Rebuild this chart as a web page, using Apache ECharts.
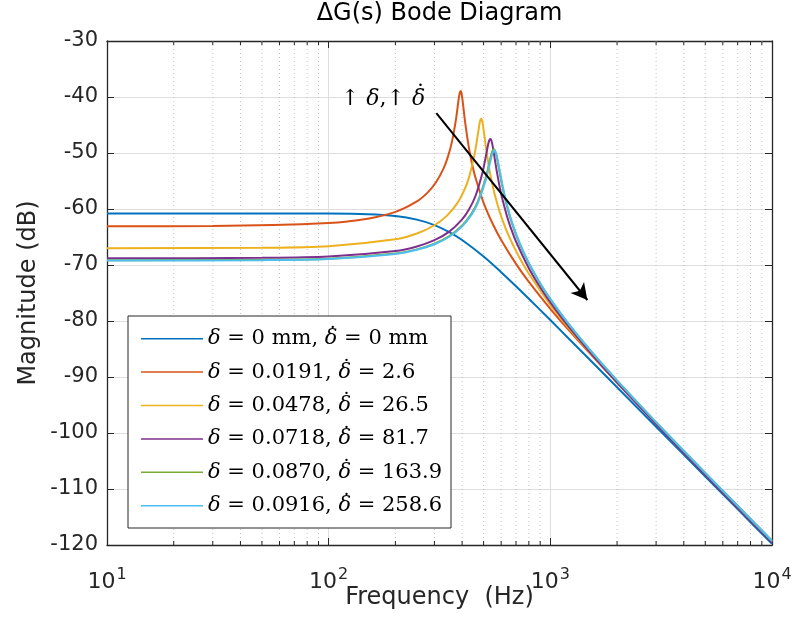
<!DOCTYPE html>
<html><head><meta charset="utf-8">
<script src="https://cdn.jsdelivr.net/npm/echarts@6/dist/echarts.min.js"></script>
<style>html,body{margin:0;padding:0;background:#fff}#c{width:792px;height:618px}</style>
</head><body><div id="c"></div>
<script>
// ---------- data ----------
const D = '\u03B4', DD = '\u03B4\u0307';
const seriesNames = [
  D + ' = 0 mm, ' + DD + ' = 0 mm',
  D + ' = 0.0191, ' + DD + ' = 2.6',
  D + ' = 0.0478, ' + DD + ' = 26.5',
  D + ' = 0.0718, ' + DD + ' = 81.7',
  D + ' = 0.0870, ' + DD + ' = 163.9',
  D + ' = 0.0916, ' + DD + ' = 258.6'
];
const colors = ['#0072BD', '#D95319', '#EDB120', '#7E2F8E', '#77AC30', '#4DBEEE'];

const freqBlue = [10,30,60,100,150,200,250,300,350,400,500,600,700,800,1000,1200,1500,2000,3000,5000,7000,10000];
const magBlue  = [-60.80,-60.80,-60.80,-60.82,-60.94,-61.26,-61.90,-62.87,-64.12,-65.54,-68.49,-71.28,-73.79,-76.02,-79.83,-82.98,-86.84,-91.84,-98.88,-107.76,-113.60,-119.80];

const freqRed = [10,30,100,150,200,250,280,305,330,345,360,375,385,390,394,398,403,413,430,445,460,500,550,600,700,800,1000,1200,1500,2000,3000,5000,10000];
const magRed  = [-63.09,-63.05,-62.52,-61.74,-60.52,-58.65,-57.03,-55.22,-52.74,-50.70,-47.97,-44.09,-40.67,-39.31,-38.95,-39.47,-40.99,-44.64,-49.27,-52.20,-54.48,-58.89,-62.68,-65.53,-69.79,-73.00,-77.82,-81.46,-85.70,-90.98,-98.21,-107.18,-119.27];

const freqYellow = [10,50,100,200,250,300,340,380,410,430,455,470,480,484,488,492,497,505,520,545,580,615,650,720,800,1000,1200,1500,2000,3000,5000,10000];
const magYellow  = [-67.00,-66.91,-66.63,-65.41,-64.37,-62.90,-61.27,-58.99,-56.54,-54.31,-50.29,-46.91,-44.63,-44.06,-43.90,-44.20,-45.11,-47.12,-50.79,-55.28,-59.48,-62.49,-64.84,-68.45,-71.57,-77.11,-81.07,-85.54,-90.97,-98.32,-107.34,-119.44];

const freqPurple = [10,50,100,200,250,300,350,400,430,460,495,515,525,532,537,542,548,558,575,600,640,660,700,800,900,1000,1200,1500,2000,3000,5000,10000];
const magPurple  = [-68.80,-68.72,-68.49,-67.51,-66.69,-65.57,-64.04,-61.86,-60.05,-57.63,-53.40,-50.02,-48.35,-47.61,-47.49,-47.77,-48.54,-50.37,-53.56,-57.31,-61.52,-63.14,-65.80,-70.57,-73.98,-76.66,-80.84,-85.45,-91.00,-98.40,-107.46,-119.58];

const freqGreen = [10,50,100,200,250,300,350,400,440,470,510,533,545,551,557,563,571,583,605,630,670,730,800,900,1000,1200,1500,2000,3000,5000,10000];
const magGreen  = [-69.15,-69.08,-68.87,-67.96,-67.21,-66.20,-64.84,-62.95,-60.85,-58.71,-54.57,-51.36,-49.86,-49.42,-49.32,-49.60,-50.46,-52.27,-55.64,-58.76,-62.47,-66.42,-69.76,-73.34,-76.12,-80.39,-85.07,-90.66,-98.10,-107.17,-119.29];

const freqCyan = [10,50,100,200,250,300,350,400,440,470,510,533,545,554,560,566,574,586,605,630,670,730,800,900,1000,1200,1500,2000,3000,5000,10000];
const magCyan  = [-69.20,-69.13,-68.92,-68.02,-67.28,-66.29,-64.95,-63.10,-61.05,-58.98,-55.01,-51.91,-50.35,-49.63,-49.54,-49.81,-50.64,-52.40,-55.28,-58.46,-62.25,-66.25,-69.64,-73.24,-76.04,-80.32,-85.02,-90.61,-98.05,-107.12,-119.25];

const xTicks   = [10, 100, 1000, 10000];
const xTickExp = ['1', '2', '3', '4'];
const minorTicks = [20,30,40,50,60,70,80,90,200,300,400,500,600,700,800,900,2000,3000,4000,5000,6000,7000,8000,9000];
const yMin = -120, yMax = -30, yStep = 10;

const arrowFrom = [306, -42.9];
const arrowTo   = [1469, -76.25];
const annotPos  = [176, -40.4];
const annotText = '\u2191 ' + D + ',\u2191 ' + DD;
const titleText = '\u0394G(s) Bode Diagram';
const xName = 'Frequency  (Hz)';
const yName = 'Magnitude (dB)';

// ---------- chart ----------
const gridL = 107, gridR = 20, gridT = 41, gridB = 73, W = 792;
const axisColor = '#262626';
const sans = 'DejaVu Sans';
const serif = 'DejaVu Serif';
const DOT = '\u02D9';

const mctx = document.createElement('canvas').getContext('2d');
function textW(t, font) { mctx.font = font; return mctx.measureText(t).width; }

// rich styles: italic delta + a zero-width raised dot centred over it
function deltaRich(size, raise) {
  const dW = textW(D, 'italic ' + size + 'px "' + serif + '"');
  const oW = textW(DOT, size + 'px "' + serif + '"');
  const shift = size * 0.08;
  const L = -(dW / 2 + oW / 2) + shift;
  const R = -oW - L;
  return {
    i: {fontFamily: serif, fontStyle: 'italic', fontSize: size, color: '#000'},
    dt: {fontFamily: serif, fontSize: size, color: '#000',
         lineHeight: size, padding: [-raise, R, 0, L]}
  };
}
const toRich = s => s.replace(/\u03B4(\u0307?)/g, (m, dot) => '{i|' + D + '}' + (dot ? '{dt|' + DOT + '}' : ''));

const curves = [
  [freqBlue, magBlue], [freqRed, magRed], [freqYellow, magYellow],
  [freqPurple, magPurple], [freqGreen, magGreen], [freqCyan, magCyan]
];

const chart = echarts.init(document.getElementById('c'), null, {renderer: 'canvas'});

const lineSeries = curves.map((c, k) => ({
  name: seriesNames[k],
  type: 'line',
  xAxisIndex: 0, yAxisIndex: 0,
  data: c[0].map((f, i) => [f, c[1][i]]),
  symbol: 'none',
  showSymbol: false,
  smooth: 0.3,
  lineStyle: {color: colors[k], width: 2},
  itemStyle: {color: colors[k]},
  z: 3,
  animation: false
}));

const minorSeries = {
  type: 'custom',
  xAxisIndex: 0, yAxisIndex: 0,
  data: minorTicks.map(v => [v, yMin]),
  encode: {x: 0, y: 1},
  silent: true,
  z: 1,
  animation: false,
  renderItem: (params, api) => {
    const v = api.value(0);
    const top = api.coord([v, yMax]);
    const bot = api.coord([v, yMin]);
    return {
      type: 'group',
      children: [
        {type: 'line', shape: {x1: top[0], y1: top[1], x2: bot[0], y2: bot[1]},
         style: {stroke: '#c4c4c4', lineWidth: 1, lineDash: [1, 3]}},
        {type: 'line', shape: {x1: bot[0], y1: bot[1], x2: bot[0], y2: bot[1] - 4},
         style: {stroke: axisColor, lineWidth: 1}},
        {type: 'line', shape: {x1: top[0], y1: top[1], x2: top[0], y2: top[1] + 4},
         style: {stroke: axisColor, lineWidth: 1}}
      ]
    };
  }
};

const annotSeries = {
  name: 'annotation',
  type: 'line',
  xAxisIndex: 0, yAxisIndex: 0,
  data: [],
  z: 5,
  animation: false,
  markLine: {
    silent: true,
    animation: false,
    symbol: ['none', 'arrow'],
    symbolSize: [13, 16],
    lineStyle: {color: '#000', width: 2, type: 'solid'},
    label: {show: false},
    data: [[{coord: arrowFrom}, {coord: arrowTo}]]
  },
  markPoint: {
    silent: true,
    animation: false,
    symbol: 'circle',
    symbolSize: 0,
    data: [{
      coord: annotPos,
      label: {
        show: true, position: 'inside',
        formatter: toRich(annotText),
        fontFamily: serif, fontSize: 22, color: '#000', lineHeight: 26,
        rich: deltaRich(22, 7)
      }
    }]
  }
};

const xAxisBase = {
  type: 'log', logBase: 10, min: xTicks[0], max: xTicks[xTicks.length - 1],
  axisLine: {show: true, onZero: false, lineStyle: {color: axisColor, width: 1.3}},
  axisTick: {show: true, inside: true, length: 7, lineStyle: {color: axisColor, width: 1}}
};
const yAxisBase = {
  type: 'value', min: yMin, max: yMax, interval: yStep,
  axisLine: {show: true, onZero: false, lineStyle: {color: axisColor, width: 1.3}},
  axisTick: {show: true, inside: true, length: 7, lineStyle: {color: axisColor, width: 1}}
};

const option = {
  backgroundColor: '#fff',
  animation: false,
  color: colors,
  grid: {left: gridL, right: gridR, top: gridT, bottom: gridB, containLabel: false, outerBoundsMode: 'none'},
  graphic: [{
    type: 'text',
    x: gridL + (W - gridL - gridR) / 2, y: 14,
    style: {text: titleText, font: '24px "DejaVu Sans"', fill: '#000',
            textAlign: 'center', textVerticalAlign: 'middle'}
  }],
  legend: {
    data: seriesNames,
    orient: 'vertical',
    left: 128, top: 316,
    icon: 'rect',
    itemWidth: 62, itemHeight: 1.5, itemGap: 7.4,
    padding: [8.7, 8, 10.3, 13],
    backgroundColor: '#fff',
    borderColor: axisColor, borderWidth: 1,
    selectedMode: false,
    formatter: name => toRich(name),
    textStyle: {
      fontFamily: serif, fontSize: 21, color: '#000', lineHeight: 24, width: 235,
      rich: deltaRich(21, 7)
    }
  },
  xAxis: [
    Object.assign({}, xAxisBase, {
      position: 'bottom',
      name: xName, nameLocation: 'middle', nameGap: 41, nameMoveOverlap: false,
      nameTextStyle: {fontFamily: sans, fontSize: 24, color: axisColor},
      axisLabel: {
        show: true, margin: 22, showMinLabel: true, showMaxLabel: true,
        formatter: v => {
          const e = Math.round(Math.log10(v));
          const idx = xTicks.findIndex(t => Math.round(Math.log10(t)) === e);
          return '{b|10}{s|' + xTickExp[idx] + '}';
        },
        rich: {
          b: {fontFamily: sans, fontSize: 22, color: axisColor},
          s: {fontFamily: sans, fontSize: 16, color: axisColor, padding: [0, 0, 14, 1]}
        }
      },
      splitLine: {show: true, lineStyle: {color: '#dedede', width: 1}}
    }),
    Object.assign({}, xAxisBase, {
      position: 'top',
      axisLabel: {show: false},
      splitLine: {show: false}
    })
  ],
  yAxis: [
    Object.assign({}, yAxisBase, {
      position: 'left',
      name: yName, nameLocation: 'middle', nameGap: 66, nameMoveOverlap: false,
      nameTextStyle: {fontFamily: sans, fontSize: 24, color: axisColor},
      axisLabel: {show: true, margin: 9, fontFamily: sans, fontSize: 21, color: axisColor},
      splitLine: {show: true, lineStyle: {color: '#dedede', width: 1}}
    }),
    Object.assign({}, yAxisBase, {
      position: 'right',
      axisLabel: {show: false},
      splitLine: {show: false}
    })
  ],
  series: [minorSeries].concat(lineSeries, [annotSeries])
};

chart.setOption(option);
</script>
</body></html>
